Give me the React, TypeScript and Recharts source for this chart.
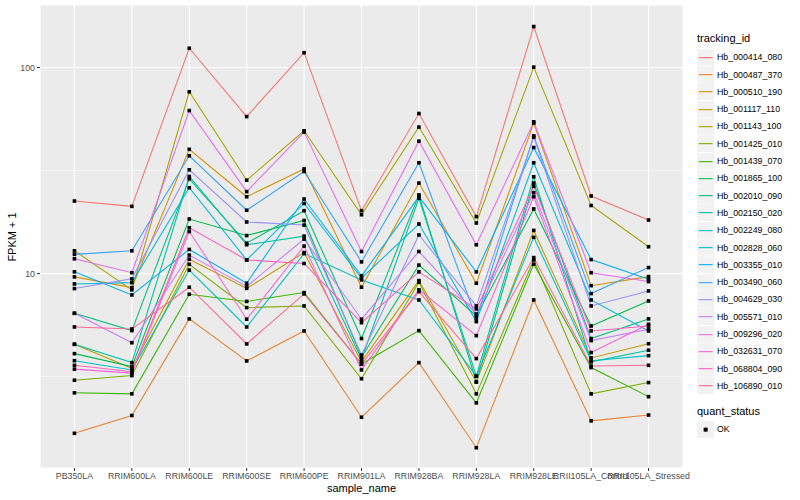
import React from "react";
import {
  ComposedChart,
  Line,
  XAxis,
  YAxis,
  CartesianGrid,
  ReferenceLine,
} from "recharts";

const categories = [
  "PB350LA",
  "RRIM600LA",
  "RRIM600LE",
  "RRIM600SE",
  "RRIM600PE",
  "RRIM901LA",
  "RRIM928BA",
  "RRIM928LA",
  "RRIM928LE",
  "RRII105LA_Control",
  "RRII105LA_Stressed",
];

const hb_000414_080 = [22.5, 21.2, 124, 57.8, 118, 20.2, 59.8, 18.9, 158, 23.8, 18.2];
const hb_000487_370 = [1.68, 2.05, 6.03, 3.77, 5.27, 2.01, 3.7, 1.43, 7.45, 1.93, 2.06];
const hb_000510_190 = [9.64, 8.55, 40.1, 23.6, 32.2, 8.59, 27.5, 8.98, 53.7, 8.74, 9.67];
const hb_001117_110 = [4.54, 3.47, 11.75, 8.48, 12.65, 3.74, 9.25, 2.98, 16.2, 3.9, 4.57];
const hb_001143_100 = [12.9, 8.34, 76.2, 28.4, 49.3, 19.3, 51.4, 17.6, 100.4, 21.4, 13.5];
const hb_001425_010 = [3.04, 3.2, 11.1, 6.84, 6.97, 3.09, 9.08, 2.61, 11.65, 2.61, 2.96];
const hb_001439_070 = [2.64, 2.61, 7.94, 7.33, 8.09, 3.64, 5.29, 2.36, 11.1, 3.5, 2.53];
const hb_001865_100 = [4.09, 3.54, 18.4, 15.3, 18.1, 3.93, 11.0, 6.23, 20.6, 5.57, 7.37];
const hb_002010_090 = [6.42, 5.29, 28.8, 14.05, 20.2, 4.84, 24.1, 2.98, 27.5, 4.84, 6.03];
const hb_002150_020 = [4.54, 3.7, 29.6, 13.8, 15.2, 3.84, 23.2, 3.18, 29.5, 3.73, 4.25];
const hb_002249_080 = [3.78, 3.41, 10.4, 5.51, 12.5, 9.32, 7.45, 3.18, 15.0, 3.78, 4.0];
const hb_002828_060 = [8.91, 9.04, 26.1, 11.65, 21.9, 9.5, 17.4, 5.85, 34.5, 7.45, 5.27];
const hb_003355_010 = [10.2, 7.88, 13.1, 8.98, 23.0, 9.75, 23.6, 10.2, 40.9, 11.7, 9.39];
const hb_003490_060 = [12.4, 12.9, 37.3, 20.3, 31.3, 11.4, 34.5, 6.07, 46.6, 8.0, 10.7];
const hb_004629_030 = [8.46, 9.43, 31.9, 17.8, 17.2, 4.03, 15.4, 6.97, 45.9, 6.97, 8.24];
const hb_005571_010 = [6.42, 4.62, 12.3, 8.67, 14.7, 6.01, 12.8, 6.37, 24.7, 4.73, 5.37];
const hb_009296_020 = [11.8, 10.1, 61.8, 25.0, 48.6, 12.8, 43.9, 13.8, 54.5, 10.1, 9.15];
const hb_032631_070 = [3.44, 3.29, 16.0, 6.01, 13.6, 3.41, 8.34, 5.0, 23.6, 4.14, 5.68];
const hb_068804_090 = [3.59, 3.34, 16.7, 11.65, 11.2, 5.78, 10.2, 6.74, 26.5, 5.27, 5.57];
const hb_106890_010 = [5.51, 5.39, 8.59, 4.56, 7.97, 3.64, 8.18, 3.87, 11.96, 3.56, 3.59];

const trackingIds = [
  "Hb_000414_080",
  "Hb_000487_370",
  "Hb_000510_190",
  "Hb_001117_110",
  "Hb_001143_100",
  "Hb_001425_010",
  "Hb_001439_070",
  "Hb_001865_100",
  "Hb_002010_090",
  "Hb_002150_020",
  "Hb_002249_080",
  "Hb_002828_060",
  "Hb_003355_010",
  "Hb_003490_060",
  "Hb_004629_030",
  "Hb_005571_010",
  "Hb_009296_020",
  "Hb_032631_070",
  "Hb_068804_090",
  "Hb_106890_010",
];

const seriesValues = [
  hb_000414_080,
  hb_000487_370,
  hb_000510_190,
  hb_001117_110,
  hb_001143_100,
  hb_001425_010,
  hb_001439_070,
  hb_001865_100,
  hb_002010_090,
  hb_002150_020,
  hb_002249_080,
  hb_002828_060,
  hb_003355_010,
  hb_003490_060,
  hb_004629_030,
  hb_005571_010,
  hb_009296_020,
  hb_032631_070,
  hb_068804_090,
  hb_106890_010,
];

const colors = [
  "#F8766D", "#EA8331", "#D89000", "#C09B00", "#A3A500",
  "#7CAE00", "#39B600", "#00BB4E", "#00BF7D", "#00C1A3",
  "#00BFC4", "#00BAE0", "#00B0F6", "#35A2FF", "#9590FF",
  "#C77CFF", "#E76BF3", "#FA62DB", "#FF62BC", "#FF6C91",
];

const yTicks = [10, 100];
const yMinor = [3.1623, 31.623];
const xTicks = categories.map((_, i) => i);

const data = categories.map((name, i) => {
  const row: Record<string, any> = { i, name };
  trackingIds.forEach((id, k) => {
    row[id] = seriesValues[k][i];
  });
  return row;
});

const FONT = "'Liberation Sans', Arial, Helvetica, sans-serif";

const renderDot = (id: string) => (props: any) => {
  const { cx, cy, index } = props;
  if (cx == null || cy == null) return <g key={`${id}-d-${index}`} />;
  return (
    <rect
      key={`${id}-d-${index}`}
      x={cx - 1.8}
      y={cy - 1.8}
      width={3.6}
      height={3.6}
      fill="#000000"
    />
  );
};

const LegendPanel = () => {
  const keyX = 697;
  const rowH = 17.3;
  const firstY = 48.7;
  return (
    <div
      style={{
        position: "absolute",
        left: 0,
        top: 0,
        width: 800,
        height: 500,
        pointerEvents: "none",
        fontFamily: FONT,
      }}
    >
      <div
        style={{
          position: "absolute",
          left: keyX,
          top: 31,
          fontSize: 11,
          lineHeight: "14px",
          color: "#000",
        }}
      >
        tracking_id
      </div>
      {trackingIds.map((id, k) => (
        <React.Fragment key={id}>
          <svg
            width={17.3}
            height={17.3}
            style={{
              position: "absolute",
              left: keyX,
              top: firstY + k * rowH,
              overflow: "visible",
            }}
          >
            <rect x={0} y={0} width={17.3} height={17.3} fill="#F2F2F2" stroke="#FFFFFF" strokeWidth={0.5} />
            <line x1={1.7} x2={15.6} y1={8.65} y2={8.65} stroke={colors[k]} strokeWidth={1.1} />
          </svg>
          <div
            style={{
              position: "absolute",
              left: 717,
              top: firstY + k * rowH + 2.5,
              fontSize: 8.8,
              lineHeight: "12px",
              color: "#000",
              whiteSpace: "nowrap",
            }}
          >
            {id}
          </div>
        </React.Fragment>
      ))}
      <div
        style={{
          position: "absolute",
          left: keyX,
          top: 404,
          fontSize: 11,
          lineHeight: "14px",
          color: "#000",
        }}
      >
        quant_status
      </div>
      <svg
        width={17.3}
        height={17.3}
        style={{ position: "absolute", left: keyX, top: 420.7 }}
      >
        <rect x={0} y={0} width={17.3} height={17.3} fill="#F2F2F2" />
        <rect x={6.65} y={6.65} width={4} height={4} fill="#000" />
      </svg>
      <div
        style={{
          position: "absolute",
          left: 717,
          top: 423.2,
          fontSize: 8.8,
          lineHeight: "12px",
          color: "#000",
        }}
      >
        OK
      </div>
      <div
        style={{
          position: "absolute",
          left: 361.5,
          top: 481,
          transform: "translateX(-50%)",
          fontSize: 11,
          lineHeight: "14px",
          color: "#000",
          whiteSpace: "nowrap",
        }}
      >
        sample_name
      </div>
      <div
        style={{
          position: "absolute",
          left: 12,
          top: 236.5,
          transform: "translate(-50%, -50%) rotate(-90deg)",
          fontSize: 11,
          lineHeight: "14px",
          color: "#000",
          whiteSpace: "nowrap",
        }}
      >
        FPKM + 1
      </div>
    </div>
  );
};

export default function App() {
  return (
    <div
      style={{
        position: "absolute",
        left: 0,
        top: 0,
        width: 800,
        height: 500,
        background: "#ffffff",
        fontFamily: FONT,
      }}
    >
      <ComposedChart
        width={800}
        height={500}
        data={data}
        margin={{ top: 5, right: 117, bottom: 0, left: 0 }}
      >
        <CartesianGrid
          fill="#EBEBEB"
          stroke="#FFFFFF"
          strokeWidth={1.1}
          horizontal={true}
          vertical={true}
        />
        {yMinor.map((v) => (
          <ReferenceLine
            key={`minor-${v}`}
            y={v}
            stroke="#FFFFFF"
            strokeWidth={0.55}
            ifOverflow="hidden"
          />
        ))}
        <XAxis
          dataKey="i"
          type="number"
          domain={[-0.6, 10.6]}
          ticks={xTicks}
          interval={0}
          allowDataOverflow
          height={32}
          tickFormatter={(v: number) => categories[v] ?? ""}
          tick={{ fill: "#4D4D4D", fontSize: 8.8, fontFamily: FONT }}
          tickLine={{ stroke: "#333333" }}
          tickSize={3}
          tickMargin={2}
          axisLine={false}
        />
        <YAxis
          type="number"
          scale="log"
          domain={[1.14, 201]}
          ticks={yTicks}
          allowDataOverflow
          width={40}
          tick={{ fill: "#4D4D4D", fontSize: 8.8, fontFamily: FONT }}
          tickLine={{ stroke: "#333333" }}
          tickSize={3}
          tickMargin={2}
          axisLine={false}
        />
        {trackingIds.map((id, k) => (
          <Line
            key={`line-${id}`}
            type="linear"
            dataKey={id}
            stroke={colors[k]}
            strokeWidth={1.07}
            dot={false}
            activeDot={false}
            isAnimationActive={false}
            legendType="none"
          />
        ))}
        {trackingIds.map((id) => (
          <Line
            key={`pts-${id}`}
            type="linear"
            dataKey={id}
            stroke="none"
            strokeWidth={0}
            dot={renderDot(id)}
            activeDot={false}
            isAnimationActive={false}
            legendType="none"
          />
        ))}
      </ComposedChart>
      <LegendPanel />
    </div>
  );
}
